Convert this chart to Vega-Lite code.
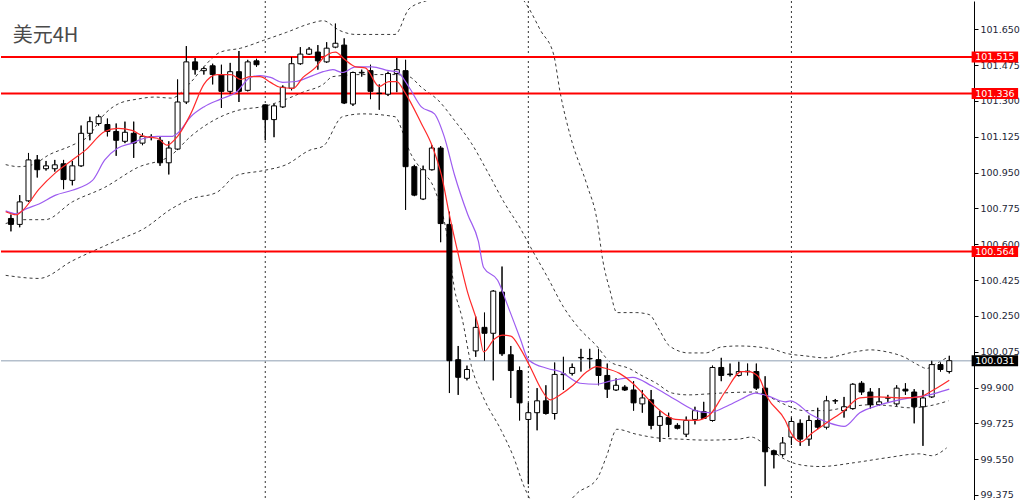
{
  "$schema": "https://vega.github.io/schema/vega-lite/v6.json",
  "width": 973,
  "height": 500,
  "autosize": {"type": "pad"},
  "padding": 0,
  "background": "white",
  "config": {
    "view": {"stroke": null},
    "font": "DejaVu Sans",
    "axisY": {
      "grid": false,
      "labelFont": "DejaVu Sans",
      "labelFontSize": 9.5,
      "labelColor": "#1c2636",
      "labelPadding": 2,
      "labelBound": false,
      "labelFlush": false,
      "labelOverlap": false,
      "tickSize": 4,
      "tickColor": "#000000",
      "domainColor": "#000000",
      "domainWidth": 1
    }
  },
  "datasets": {
    "candles": [
      {"i":0,"o":100.726,"h":100.745,"l":100.663,"c":100.697},
      {"i":1,"o":100.697,"h":100.840,"l":100.683,"c":100.807},
      {"i":2,"o":100.812,"h":101.046,"l":100.807,"c":101.012},
      {"i":3,"o":101.012,"h":101.036,"l":100.926,"c":100.964},
      {"i":4,"o":100.969,"h":101.007,"l":100.960,"c":100.983},
      {"i":5,"o":100.969,"h":101.012,"l":100.955,"c":100.988},
      {"i":6,"o":100.993,"h":101.012,"l":100.869,"c":100.916},
      {"i":7,"o":100.912,"h":101.007,"l":100.888,"c":100.983},
      {"i":8,"o":100.983,"h":101.180,"l":100.978,"c":101.142},
      {"i":9,"o":101.142,"h":101.223,"l":101.108,"c":101.199},
      {"i":10,"o":101.190,"h":101.233,"l":101.180,"c":101.223},
      {"i":11,"o":101.185,"h":101.214,"l":101.127,"c":101.151},
      {"i":12,"o":101.151,"h":101.190,"l":101.032,"c":101.108},
      {"i":13,"o":101.103,"h":101.199,"l":101.094,"c":101.147},
      {"i":14,"o":101.142,"h":101.199,"l":101.022,"c":101.094},
      {"i":15,"o":101.094,"h":101.142,"l":101.084,"c":101.127},
      {"i":16,"o":101.122,"h":101.137,"l":101.108,"c":101.125},
      {"i":17,"o":101.108,"h":101.127,"l":100.983,"c":100.998},
      {"i":18,"o":100.998,"h":101.103,"l":100.941,"c":101.070},
      {"i":19,"o":101.065,"h":101.405,"l":101.060,"c":101.295},
      {"i":20,"o":101.295,"h":101.568,"l":101.285,"c":101.491},
      {"i":21,"o":101.491,"h":101.510,"l":101.429,"c":101.453},
      {"i":22,"o":101.448,"h":101.467,"l":101.429,"c":101.458},
      {"i":23,"o":101.472,"h":101.482,"l":101.381,"c":101.429},
      {"i":24,"o":101.429,"h":101.477,"l":101.266,"c":101.347},
      {"i":25,"o":101.347,"h":101.486,"l":101.333,"c":101.443},
      {"i":26,"o":101.443,"h":101.544,"l":101.295,"c":101.347},
      {"i":27,"o":101.352,"h":101.501,"l":101.347,"c":101.491},
      {"i":28,"o":101.496,"h":101.506,"l":101.467,"c":101.477},
      {"i":29,"o":101.281,"h":101.283,"l":101.108,"c":101.209},
      {"i":30,"o":101.209,"h":101.285,"l":101.123,"c":101.276},
      {"i":31,"o":101.271,"h":101.376,"l":101.266,"c":101.367},
      {"i":32,"o":101.362,"h":101.515,"l":101.352,"c":101.482},
      {"i":33,"o":101.482,"h":101.563,"l":101.477,"c":101.529},
      {"i":34,"o":101.529,"h":101.563,"l":101.525,"c":101.553},
      {"i":35,"o":101.539,"h":101.573,"l":101.453,"c":101.496},
      {"i":36,"o":101.491,"h":101.587,"l":101.486,"c":101.558},
      {"i":37,"o":101.563,"h":101.678,"l":101.558,"c":101.582},
      {"i":38,"o":101.573,"h":101.606,"l":101.285,"c":101.290},
      {"i":39,"o":101.285,"h":101.443,"l":101.276,"c":101.439},
      {"i":40,"o":101.437,"h":101.453,"l":101.419,"c":101.440},
      {"i":41,"o":101.448,"h":101.477,"l":101.309,"c":101.347},
      {"i":42,"o":101.338,"h":101.381,"l":101.257,"c":101.336},
      {"i":43,"o":101.333,"h":101.443,"l":101.324,"c":101.434},
      {"i":44,"o":101.434,"h":101.510,"l":101.343,"c":101.453},
      {"i":45,"o":101.448,"h":101.501,"l":100.768,"c":100.979},
      {"i":46,"o":100.979,"h":100.988,"l":100.835,"c":100.840},
      {"i":47,"o":100.821,"h":100.984,"l":100.816,"c":100.964},
      {"i":48,"o":100.964,"h":101.084,"l":100.960,"c":101.070},
      {"i":49,"o":101.070,"h":101.080,"l":100.610,"c":100.701},
      {"i":50,"o":100.697,"h":100.759,"l":99.873,"c":100.031},
      {"i":51,"o":100.036,"h":100.103,"l":99.864,"c":99.950},
      {"i":52,"o":99.945,"h":100.007,"l":99.935,"c":99.988},
      {"i":53,"o":100.079,"h":100.247,"l":100.050,"c":100.194},
      {"i":54,"o":100.194,"h":100.266,"l":100.031,"c":100.165},
      {"i":55,"o":100.165,"h":100.376,"l":99.935,"c":100.371},
      {"i":56,"o":100.366,"h":100.491,"l":100.055,"c":100.065},
      {"i":57,"o":100.060,"h":100.103,"l":99.849,"c":99.983},
      {"i":58,"o":99.983,"h":100.002,"l":99.739,"c":99.825},
      {"i":59,"o":99.744,"h":99.825,"l":99.428,"c":99.777},
      {"i":60,"o":99.777,"h":99.897,"l":99.691,"c":99.835},
      {"i":61,"o":99.835,"h":99.911,"l":99.768,"c":99.773},
      {"i":62,"o":99.773,"h":100.022,"l":99.744,"c":99.964},
      {"i":63,"o":99.963,"h":100.050,"l":99.888,"c":99.966},
      {"i":64,"o":99.969,"h":100.017,"l":99.959,"c":99.998},
      {"i":65,"o":100.045,"h":100.089,"l":99.978,"c":100.047},
      {"i":66,"o":100.040,"h":100.089,"l":99.993,"c":100.042},
      {"i":67,"o":100.036,"h":100.089,"l":99.911,"c":99.959},
      {"i":68,"o":99.959,"h":100.017,"l":99.849,"c":99.892},
      {"i":69,"o":99.888,"h":99.945,"l":99.883,"c":99.911},
      {"i":70,"o":99.902,"h":99.911,"l":99.883,"c":99.888},
      {"i":71,"o":99.888,"h":99.931,"l":99.787,"c":99.825},
      {"i":72,"o":99.820,"h":99.888,"l":99.777,"c":99.849},
      {"i":73,"o":99.840,"h":99.888,"l":99.696,"c":99.715},
      {"i":74,"o":99.715,"h":99.787,"l":99.634,"c":99.758},
      {"i":75,"o":99.753,"h":99.777,"l":99.658,"c":99.720},
      {"i":76,"o":99.715,"h":99.725,"l":99.696,"c":99.701},
      {"i":77,"o":99.672,"h":99.758,"l":99.658,"c":99.739},
      {"i":78,"o":99.744,"h":99.806,"l":99.720,"c":99.787},
      {"i":79,"o":99.782,"h":99.830,"l":99.749,"c":99.749},
      {"i":80,"o":99.739,"h":100.007,"l":99.734,"c":99.998},
      {"i":81,"o":99.998,"h":100.045,"l":99.931,"c":99.959},
      {"i":82,"o":99.966,"h":100.017,"l":99.954,"c":99.963},
      {"i":83,"o":99.959,"h":100.026,"l":99.954,"c":99.978},
      {"i":84,"o":99.977,"h":100.017,"l":99.959,"c":99.980},
      {"i":85,"o":99.978,"h":100.017,"l":99.888,"c":99.897},
      {"i":86,"o":99.897,"h":99.955,"l":99.418,"c":99.586},
      {"i":87,"o":99.591,"h":99.596,"l":99.505,"c":99.572},
      {"i":88,"o":99.572,"h":99.658,"l":99.562,"c":99.629},
      {"i":89,"o":99.658,"h":99.753,"l":99.619,"c":99.734},
      {"i":90,"o":99.725,"h":99.744,"l":99.615,"c":99.648},
      {"i":91,"o":99.648,"h":99.763,"l":99.615,"c":99.739},
      {"i":92,"o":99.739,"h":99.801,"l":99.696,"c":99.706},
      {"i":93,"o":99.706,"h":99.859,"l":99.696,"c":99.835},
      {"i":94,"o":99.834,"h":99.844,"l":99.820,"c":99.836},
      {"i":95,"o":99.787,"h":99.854,"l":99.753,"c":99.806},
      {"i":96,"o":99.797,"h":99.921,"l":99.792,"c":99.916},
      {"i":97,"o":99.921,"h":99.931,"l":99.864,"c":99.878},
      {"i":98,"o":99.878,"h":99.897,"l":99.797,"c":99.816},
      {"i":99,"o":99.816,"h":99.897,"l":99.811,"c":99.830},
      {"i":100,"o":99.848,"h":99.864,"l":99.830,"c":99.850},
      {"i":101,"o":99.820,"h":99.911,"l":99.811,"c":99.897},
      {"i":102,"o":99.892,"h":99.921,"l":99.864,"c":99.883},
      {"i":103,"o":99.878,"h":99.892,"l":99.725,"c":99.806},
      {"i":104,"o":99.806,"h":99.888,"l":99.615,"c":99.849},
      {"i":105,"o":99.854,"h":100.031,"l":99.849,"c":100.012},
      {"i":106,"o":100.012,"h":100.022,"l":99.978,"c":99.988},
      {"i":107,"o":99.978,"h":100.055,"l":99.969,"c":100.031}
    ],
    "bands": [
      {"s":"upper","i":-0.6,"v":100.989},{"s":"upper","i":0.9,"v":100.979},{"s":"upper","i":2.5,"v":100.989},
      {"s":"upper","i":4.3,"v":101.036},{"s":"upper","i":7.0,"v":101.084},{"s":"upper","i":8.8,"v":101.127},
      {"s":"upper","i":10.7,"v":101.237},{"s":"upper","i":12.2,"v":101.285},{"s":"upper","i":14.4,"v":101.309},
      {"s":"upper","i":16.4,"v":101.319},{"s":"upper","i":18.3,"v":101.314},{"s":"upper","i":20.5,"v":101.391},
      {"s":"upper","i":22.0,"v":101.467},{"s":"upper","i":23.9,"v":101.539},{"s":"upper","i":26.2,"v":101.558},
      {"s":"upper","i":28.8,"v":101.596},{"s":"upper","i":31.4,"v":101.635},{"s":"upper","i":34.1,"v":101.678},
      {"s":"upper","i":35.6,"v":101.692},{"s":"upper","i":37.5,"v":101.644},{"s":"upper","i":39.3,"v":101.625},
      {"s":"upper","i":43.8,"v":101.625},{"s":"upper","i":45.4,"v":101.750},{"s":"upper","i":48.0,"v":101.800},
      {"s":"upper","i":50.2,"v":101.850},{"s":"upper","i":53.6,"v":101.908},{"s":"upper","i":56.4,"v":101.884},
      {"s":"upper","i":58.1,"v":101.812},{"s":"upper","i":58.9,"v":101.764},{"s":"upper","i":60.4,"v":101.644},
      {"s":"upper","i":61.9,"v":101.525},{"s":"upper","i":62.6,"v":101.348},{"s":"upper","i":63.8,"v":101.127},
      {"s":"upper","i":65.7,"v":100.888},{"s":"upper","i":66.8,"v":100.725},{"s":"upper","i":67.5,"v":100.519},
      {"s":"upper","i":68.3,"v":100.376},{"s":"upper","i":69.1,"v":100.266},{"s":"upper","i":71.3,"v":100.266},
      {"s":"upper","i":72.8,"v":100.256},{"s":"upper","i":73.9,"v":100.184},{"s":"upper","i":75.1,"v":100.103},
      {"s":"upper","i":77.3,"v":100.069},{"s":"upper","i":79.2,"v":100.069},{"s":"upper","i":81.0,"v":100.098},
      {"s":"upper","i":83.0,"v":100.103},{"s":"upper","i":86.7,"v":100.089},{"s":"upper","i":88.6,"v":100.065},
      {"s":"upper","i":90.5,"v":100.055},{"s":"upper","i":92.8,"v":100.045},{"s":"upper","i":96.2,"v":100.074},
      {"s":"upper","i":98.0,"v":100.084},{"s":"upper","i":99.9,"v":100.074},{"s":"upper","i":101.8,"v":100.050},
      {"s":"upper","i":103.6,"v":100.007},{"s":"upper","i":104.4,"v":99.993},{"s":"upper","i":105.5,"v":100.017},
      {"s":"upper","i":106.9,"v":100.050},
      {"s":"middle","i":-0.6,"v":100.701},{"s":"middle","i":1.4,"v":100.720},{"s":"middle","i":3.9,"v":100.720},
      {"s":"middle","i":7.0,"v":100.807},{"s":"middle","i":10.7,"v":100.878},{"s":"middle","i":14.4,"v":100.974},
      {"s":"middle","i":18.3,"v":101.036},{"s":"middle","i":20.5,"v":101.127},{"s":"middle","i":23.5,"v":101.214},
      {"s":"middle","i":25.7,"v":101.252},{"s":"middle","i":29.1,"v":101.276},{"s":"middle","i":31.4,"v":101.309},
      {"s":"middle","i":33.3,"v":101.343},{"s":"middle","i":35.6,"v":101.381},{"s":"middle","i":36.7,"v":101.419},
      {"s":"middle","i":40.1,"v":101.429},{"s":"middle","i":43.8,"v":101.429},{"s":"middle","i":45.4,"v":101.419},
      {"s":"middle","i":46.8,"v":101.367},{"s":"middle","i":48.8,"v":101.300},{"s":"middle","i":50.6,"v":101.204},
      {"s":"middle","i":52.5,"v":101.094},{"s":"middle","i":54.4,"v":100.950},{"s":"middle","i":56.2,"v":100.807},
      {"s":"middle","i":58.1,"v":100.677},{"s":"middle","i":59.3,"v":100.582},{"s":"middle","i":61.2,"v":100.438},
      {"s":"middle","i":63.0,"v":100.294},{"s":"middle","i":64.9,"v":100.184},{"s":"middle","i":66.8,"v":100.103},
      {"s":"middle","i":68.3,"v":100.026},{"s":"middle","i":70.5,"v":99.993},{"s":"middle","i":71.7,"v":99.964},
      {"s":"middle","i":73.6,"v":99.921},{"s":"middle","i":75.4,"v":99.873},{"s":"middle","i":77.3,"v":99.864},
      {"s":"middle","i":79.2,"v":99.868},{"s":"middle","i":81.0,"v":99.873},{"s":"middle","i":84.9,"v":99.878},
      {"s":"middle","i":86.7,"v":99.849},{"s":"middle","i":88.3,"v":99.816},{"s":"middle","i":90.5,"v":99.787},
      {"s":"middle","i":92.8,"v":99.787},{"s":"middle","i":95.0,"v":99.801},{"s":"middle","i":98.0,"v":99.816},
      {"s":"middle","i":100.2,"v":99.811},{"s":"middle","i":102.5,"v":99.801},{"s":"middle","i":104.8,"v":99.811},
      {"s":"middle","i":106.9,"v":99.835},
      {"s":"lower","i":-0.6,"v":100.448},{"s":"lower","i":3.2,"v":100.433},{"s":"lower","i":7.0,"v":100.519},
      {"s":"lower","i":11.9,"v":100.615},{"s":"lower","i":15.2,"v":100.677},{"s":"lower","i":18.3,"v":100.773},
      {"s":"lower","i":20.5,"v":100.821},{"s":"lower","i":23.5,"v":100.854},{"s":"lower","i":25.7,"v":100.936},
      {"s":"lower","i":28.8,"v":100.960},{"s":"lower","i":31.4,"v":100.989},{"s":"lower","i":34.1,"v":101.060},
      {"s":"lower","i":35.6,"v":101.079},{"s":"lower","i":37.8,"v":101.223},{"s":"lower","i":40.1,"v":101.237},
      {"s":"lower","i":43.8,"v":101.223},{"s":"lower","i":44.6,"v":101.156},{"s":"lower","i":45.4,"v":101.060},
      {"s":"lower","i":46.8,"v":100.964},{"s":"lower","i":48.3,"v":100.869},{"s":"lower","i":49.7,"v":100.649},
      {"s":"lower","i":50.6,"v":100.376},{"s":"lower","i":51.4,"v":100.247},{"s":"lower","i":52.5,"v":100.007},
      {"s":"lower","i":53.9,"v":99.849},{"s":"lower","i":55.9,"v":99.691},{"s":"lower","i":57.3,"v":99.562},
      {"s":"lower","i":58.5,"v":99.418},{"s":"lower","i":59.3,"v":99.347},{"s":"lower","i":61.5,"v":99.275},
      {"s":"lower","i":63.2,"v":99.323},{"s":"lower","i":64.6,"v":99.385},{"s":"lower","i":66.8,"v":99.452},
      {"s":"lower","i":67.9,"v":99.562},{"s":"lower","i":69.1,"v":99.696},{"s":"lower","i":71.3,"v":99.672},
      {"s":"lower","i":73.9,"v":99.653},{"s":"lower","i":76.2,"v":99.648},{"s":"lower","i":79.2,"v":99.643},
      {"s":"lower","i":83.0,"v":99.648},{"s":"lower","i":84.4,"v":99.658},{"s":"lower","i":85.6,"v":99.634},
      {"s":"lower","i":86.7,"v":99.596},{"s":"lower","i":88.3,"v":99.548},{"s":"lower","i":90.5,"v":99.519},
      {"s":"lower","i":92.3,"v":99.514},{"s":"lower","i":96.2,"v":99.533},{"s":"lower","i":99.9,"v":99.557},
      {"s":"lower","i":103.6,"v":99.576},{"s":"lower","i":105.0,"v":99.567},{"s":"lower","i":106.7,"v":99.605}
    ],
    "ma_fast": [
      {"i":-0.6,"v":100.759},{"i":0.6,"v":100.744},{"i":1.4,"v":100.768},{"i":3.2,"v":100.869},
      {"i":5.1,"v":100.950},{"i":7.0,"v":101.012},{"i":8.5,"v":101.060},{"i":10.7,"v":101.151},
      {"i":12.2,"v":101.166},{"i":13.8,"v":101.156},{"i":15.2,"v":101.127},{"i":16.7,"v":101.118},
      {"i":17.8,"v":101.084},{"i":19.0,"v":101.127},{"i":20.5,"v":101.237},{"i":22.0,"v":101.381},
      {"i":23.5,"v":101.429},{"i":25.1,"v":101.429},{"i":26.2,"v":101.405},{"i":27.3,"v":101.419},
      {"i":28.4,"v":101.419},{"i":29.6,"v":101.391},{"i":30.7,"v":101.367},{"i":32.2,"v":101.362},
      {"i":33.3,"v":101.415},{"i":34.8,"v":101.467},{"i":35.6,"v":101.510},{"i":37.0,"v":101.539},
      {"i":38.1,"v":101.501},{"i":39.3,"v":101.467},{"i":40.4,"v":101.462},{"i":42.0,"v":101.371},
      {"i":43.1,"v":101.395},{"i":44.0,"v":101.395},{"i":44.9,"v":101.343},{"i":46.8,"v":101.190},
      {"i":48.0,"v":101.084},{"i":49.1,"v":100.936},{"i":50.0,"v":100.744},{"i":51.0,"v":100.553},
      {"i":52.1,"v":100.361},{"i":53.3,"v":100.199},{"i":53.9,"v":100.074},{"i":55.1,"v":100.136},
      {"i":56.1,"v":100.156},{"i":57.0,"v":100.151},{"i":58.1,"v":100.089},{"i":59.3,"v":99.993},
      {"i":60.4,"v":99.897},{"i":61.5,"v":99.840},{"i":62.6,"v":99.864},{"i":64.1,"v":99.911},
      {"i":65.7,"v":99.978},{"i":66.8,"v":100.002},{"i":67.9,"v":99.993},{"i":69.4,"v":99.969},
      {"i":70.9,"v":99.921},{"i":72.0,"v":99.873},{"i":73.9,"v":99.792},{"i":75.8,"v":99.744},
      {"i":78.1,"v":99.739},{"i":79.6,"v":99.763},{"i":81.5,"v":99.883},{"i":83.3,"v":99.978},
      {"i":84.1,"v":99.978},{"i":85.2,"v":99.955},{"i":86.3,"v":99.849},{"i":88.3,"v":99.739},
      {"i":88.9,"v":99.682},{"i":90.1,"v":99.634},{"i":91.2,"v":99.672},{"i":93.1,"v":99.730},
      {"i":95.0,"v":99.787},{"i":96.8,"v":99.849},{"i":98.8,"v":99.854},{"i":101.8,"v":99.849},
      {"i":103.6,"v":99.854},{"i":104.8,"v":99.878},{"i":107.0,"v":99.935}
    ],
    "ma_slow": [
      {"i":-0.6,"v":100.763},{"i":0.6,"v":100.749},{"i":1.7,"v":100.773},{"i":3.2,"v":100.797},
      {"i":5.1,"v":100.840},{"i":7.0,"v":100.864},{"i":9.3,"v":100.912},{"i":10.7,"v":101.012},
      {"i":12.2,"v":101.070},{"i":13.8,"v":101.094},{"i":15.2,"v":101.118},{"i":16.7,"v":101.127},
      {"i":18.3,"v":101.127},{"i":19.0,"v":101.142},{"i":20.5,"v":101.223},{"i":22.0,"v":101.271},
      {"i":23.9,"v":101.309},{"i":25.7,"v":101.343},{"i":27.3,"v":101.415},{"i":28.4,"v":101.424},
      {"i":29.6,"v":101.415},{"i":31.0,"v":101.391},{"i":32.5,"v":101.395},{"i":34.1,"v":101.419},
      {"i":35.6,"v":101.443},{"i":36.7,"v":101.453},{"i":37.8,"v":101.439},{"i":39.3,"v":101.467},
      {"i":41.2,"v":101.467},{"i":43.1,"v":101.448},{"i":44.0,"v":101.443},{"i":45.4,"v":101.367},
      {"i":46.8,"v":101.271},{"i":48.3,"v":101.237},{"i":49.4,"v":101.127},{"i":50.6,"v":100.936},
      {"i":52.1,"v":100.744},{"i":53.3,"v":100.615},{"i":53.9,"v":100.486},{"i":55.5,"v":100.424},
      {"i":56.7,"v":100.294},{"i":58.1,"v":100.136},{"i":59.0,"v":100.036},{"i":61.2,"v":99.993},
      {"i":62.6,"v":99.978},{"i":64.9,"v":99.921},{"i":66.8,"v":99.916},{"i":68.3,"v":99.931},
      {"i":70.9,"v":99.950},{"i":73.1,"v":99.907},{"i":75.8,"v":99.840},{"i":78.1,"v":99.787},
      {"i":79.6,"v":99.777},{"i":81.5,"v":99.806},{"i":83.3,"v":99.844},{"i":84.9,"v":99.873},
      {"i":86.3,"v":99.859},{"i":88.3,"v":99.830},{"i":88.9,"v":99.835},{"i":91.2,"v":99.768},
      {"i":93.1,"v":99.730},{"i":95.0,"v":99.710},{"i":96.8,"v":99.777},{"i":98.8,"v":99.811},
      {"i":102.5,"v":99.849},{"i":104.1,"v":99.859},{"i":105.5,"v":99.873},{"i":107.0,"v":99.892}
    ],
    "levels": [
      {"v":101.515,"t":"101.515"},
      {"v":101.336,"t":"101.336"},
      {"v":100.564,"t":"100.564"}
    ],
    "last": [{"v":100.031,"t":"100.031"}],
    "weeks": [{"i":29},{"i":59},{"i":89}],
    "caption": [{"t":"美元4H"}]
  },
  "layer": [
    {
      "data": {"name": "candles"},
      "mark": {"type": "rule", "color": "#000000", "strokeWidth": 1},
      "encoding": {
        "x": {"field": "i", "type": "quantitative", "scale": {"domain": [-0.564, 109.25], "nice": false, "zero": false}, "axis": null},
        "y": {
          "field": "l", "type": "quantitative", "title": null,
          "scale": {"domain": [99.370, 101.764], "nice": false, "zero": false},
          "axis": {
            "orient": "right",
            "title": null,
            "values": [99.375, 99.55, 99.725, 99.9, 100.075, 100.25, 100.425, 100.6, 100.775, 100.95, 101.125, 101.3, 101.475, 101.65],
            "tickCount": 30,
            "format": ".3f",
            "labelOverlap": false
          }
        },
        "y2": {"field": "h"}
      }
    },
    {
      "data": {"name": "weeks"},
      "mark": {"type": "rule", "color": "#333333", "strokeWidth": 1, "strokeDash": [2, 3]},
      "encoding": {
        "x": {"field": "i", "type": "quantitative", "scale": {"domain": [-0.564, 109.25], "nice": false, "zero": false}, "axis": null}
      }
    },
    {
      "data": {"name": "bands"},
      "mark": {"type": "line", "color": "#3a3a3a", "strokeWidth": 1, "strokeDash": [3, 3], "interpolate": "monotone", "clip": true},
      "encoding": {
        "x": {"field": "i", "type": "quantitative", "scale": {"domain": [-0.564, 109.25], "nice": false, "zero": false}, "axis": null},
        "y": {"field": "v", "type": "quantitative", "title": null, "scale": {"domain": [99.370, 101.764], "nice": false, "zero": false}},
        "detail": {"field": "s"}
      }
    },
    {
      "data": {"name": "last"},
      "mark": {"type": "rule", "color": "#b4bfcc", "strokeWidth": 1.5},
      "encoding": {
        "y": {"field": "v", "type": "quantitative", "title": null, "scale": {"domain": [99.370, 101.764], "nice": false, "zero": false}}
      }
    },
    {
      "data": {"name": "levels"},
      "mark": {"type": "rule", "color": "#ff0000", "strokeWidth": 2},
      "encoding": {
        "y": {"field": "v", "type": "quantitative", "title": null, "scale": {"domain": [99.370, 101.764], "nice": false, "zero": false}}
      }
    },
    {
      "data": {"name": "candles"},
      "mark": {"type": "rule", "color": "#000000", "strokeWidth": 1},
      "encoding": {
        "x": {"field": "i", "type": "quantitative", "scale": {"domain": [-0.564, 109.25], "nice": false, "zero": false}, "axis": null},
        "y": {"field": "l", "type": "quantitative", "title": null, "scale": {"domain": [99.370, 101.764], "nice": false, "zero": false}},
        "y2": {"field": "h"}
      }
    },
    {
      "data": {"name": "candles"},
      "mark": {"type": "bar", "size": 5, "stroke": "#000000", "strokeWidth": 1},
      "encoding": {
        "x": {"field": "i", "type": "quantitative", "scale": {"domain": [-0.564, 109.25], "nice": false, "zero": false}, "axis": null},
        "y": {"field": "o", "type": "quantitative", "title": null, "scale": {"domain": [99.370, 101.764], "nice": false, "zero": false}},
        "y2": {"field": "c"},
        "fill": {"condition": {"test": "datum.c >= datum.o", "value": "#ffffff"}, "value": "#000000"}
      }
    },
    {
      "data": {"name": "ma_slow"},
      "mark": {"type": "line", "color": "#9d5cf0", "strokeWidth": 1.2, "interpolate": "monotone", "clip": true},
      "encoding": {
        "x": {"field": "i", "type": "quantitative", "scale": {"domain": [-0.564, 109.25], "nice": false, "zero": false}, "axis": null},
        "y": {"field": "v", "type": "quantitative", "title": null, "scale": {"domain": [99.370, 101.764], "nice": false, "zero": false}}
      }
    },
    {
      "data": {"name": "ma_fast"},
      "mark": {"type": "line", "color": "#ff2a2a", "strokeWidth": 1.2, "interpolate": "monotone", "clip": true},
      "encoding": {
        "x": {"field": "i", "type": "quantitative", "scale": {"domain": [-0.564, 109.25], "nice": false, "zero": false}, "axis": null},
        "y": {"field": "v", "type": "quantitative", "title": null, "scale": {"domain": [99.370, 101.764], "nice": false, "zero": false}}
      }
    },
    {
      "data": {"name": "levels"},
      "mark": {"type": "bar", "size": 11, "color": "#ff0000"},
      "encoding": {
        "x": {"datum": 109.55, "type": "quantitative", "scale": {"domain": [-0.564, 109.25], "nice": false, "zero": false}, "axis": null},
        "x2": {"datum": 114.85},
        "y": {"field": "v", "type": "quantitative", "title": null, "scale": {"domain": [99.370, 101.764], "nice": false, "zero": false}}
      }
    },
    {
      "data": {"name": "last"},
      "mark": {"type": "bar", "size": 11, "color": "#000000"},
      "encoding": {
        "x": {"datum": 109.55, "type": "quantitative", "scale": {"domain": [-0.564, 109.25], "nice": false, "zero": false}, "axis": null},
        "x2": {"datum": 114.85},
        "y": {"field": "v", "type": "quantitative", "title": null, "scale": {"domain": [99.370, 101.764], "nice": false, "zero": false}}
      }
    },
    {
      "data": {"name": "levels"},
      "mark": {"type": "text", "color": "#ffffff", "font": "DejaVu Sans", "fontSize": 9.5, "align": "center", "baseline": "middle"},
      "encoding": {
        "x": {"datum": 112.2, "type": "quantitative", "scale": {"domain": [-0.564, 109.25], "nice": false, "zero": false}, "axis": null},
        "y": {"field": "v", "type": "quantitative", "title": null, "scale": {"domain": [99.370, 101.764], "nice": false, "zero": false}},
        "text": {"field": "t"}
      }
    },
    {
      "data": {"name": "last"},
      "mark": {"type": "text", "color": "#ffffff", "font": "DejaVu Sans", "fontSize": 9.5, "align": "center", "baseline": "middle"},
      "encoding": {
        "x": {"datum": 112.2, "type": "quantitative", "scale": {"domain": [-0.564, 109.25], "nice": false, "zero": false}, "axis": null},
        "y": {"field": "v", "type": "quantitative", "title": null, "scale": {"domain": [99.370, 101.764], "nice": false, "zero": false}},
        "text": {"field": "t"}
      }
    },
    {
      "data": {"name": "caption"},
      "mark": {"type": "text", "color": "#4a4a4a", "font": "Noto Sans CJK SC", "fontSize": 20, "align": "left", "baseline": "middle"},
      "encoding": {
        "x": {"datum": 0.2, "type": "quantitative", "scale": {"domain": [-0.564, 109.25], "nice": false, "zero": false}, "axis": null},
        "y": {"datum": 101.618, "type": "quantitative", "title": null, "scale": {"domain": [99.370, 101.764], "nice": false, "zero": false}},
        "text": {"field": "t"}
      }
    }
  ]
}
